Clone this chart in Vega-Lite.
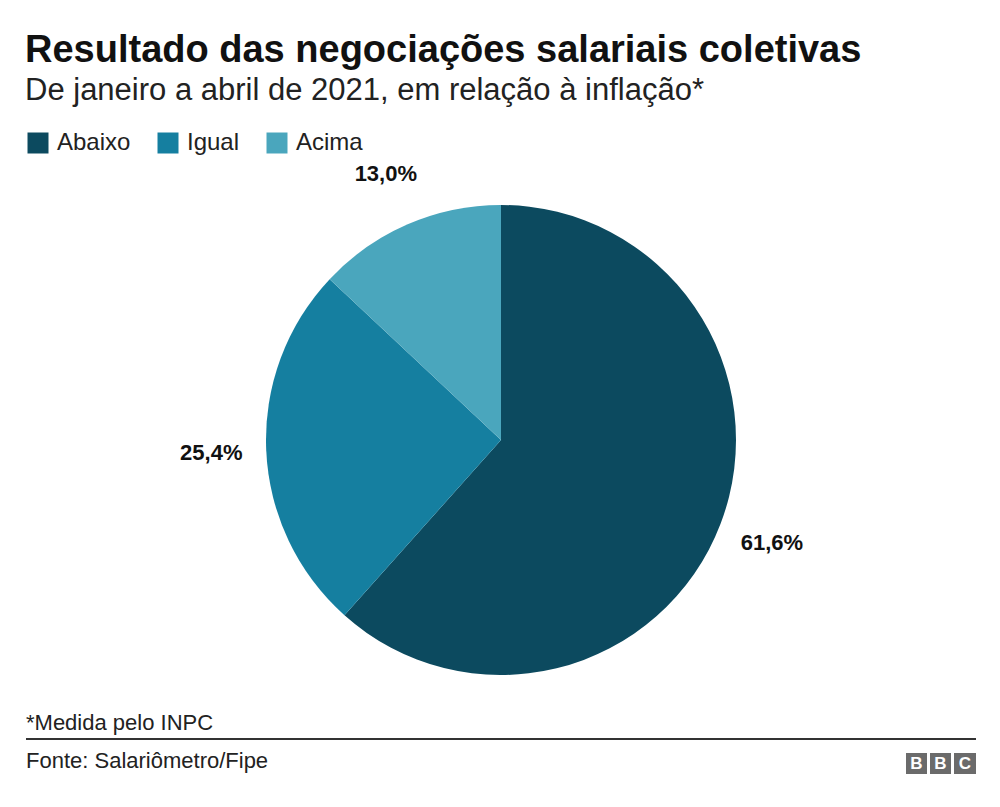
{
  "$schema": "https://vega.github.io/schema/vega-lite/v6.json",
  "background": "white",
  "padding": {"left": 25, "right": 25, "top": 32, "bottom": 0},
  "spacing": 0,
  "config": {
    "font": "Liberation Sans",
    "view": {"stroke": null},
    "locale": {"number": {"decimal": ",", "thousands": ".", "grouping": [3], "currency": ["R$", ""]}}
  },
  "title": {
    "text": "Resultado das negociações salariais coletivas",
    "subtitle": "De janeiro a abril de 2021, em relação à inflação*",
    "anchor": "start",
    "fontSize": 38,
    "fontWeight": "bold",
    "color": "#111111",
    "subtitleFontSize": 31,
    "subtitleColor": "#222222",
    "subtitlePadding": 6,
    "offset": 25
  },
  "vconcat": [
    {
      "width": 950,
      "height": 530,
      "data": {
        "values": [
          {"categoria": "Abaixo", "ordem": 1, "parcela": 0.616},
          {"categoria": "Igual", "ordem": 2, "parcela": 0.254},
          {"categoria": "Acima", "ordem": 3, "parcela": 0.130}
        ]
      },
      "encoding": {
        "theta": {"field": "parcela", "type": "quantitative", "stack": true},
        "order": {"field": "ordem", "type": "quantitative"}
      },
      "layer": [
        {
          "mark": {"type": "arc", "outerRadius": 235},
          "encoding": {
            "color": {
              "field": "categoria",
              "type": "nominal",
              "sort": ["Abaixo", "Igual", "Acima"],
              "scale": {"domain": ["Abaixo", "Igual", "Acima"], "range": ["#0c4a5f", "#157fa0", "#4aa6bd"]},
              "legend": {
                "orient": "top",
                "direction": "horizontal",
                "title": null,
                "symbolType": "square",
                "symbolSize": 441,
                "symbolOpacity": 1,
                "symbolStrokeWidth": 0,
                "labelFontSize": 24,
                "labelColor": "#222222",
                "labelOffset": 7,
                "columnPadding": 25,
                "offset": 7
              }
            }
          }
        },
        {
          "mark": {"type": "text", "radius": 290, "fontSize": 22, "fontWeight": "bold", "color": "#111111"},
          "encoding": {
            "detail": {"field": "categoria", "type": "nominal"},
            "text": {"field": "parcela", "type": "quantitative", "format": ".1%"}
          }
        }
      ]
    },
    {
      "width": 950,
      "height": 100,
      "data": {"values": [{}]},
      "layer": [
        {
          "mark": {"type": "text", "align": "left", "baseline": "alphabetic", "fontSize": 22, "color": "#222222"},
          "encoding": {"x": {"value": 0}, "y": {"value": 25}, "text": {"value": "*Medida pelo INPC"}}
        },
        {
          "mark": {"type": "rule", "strokeWidth": 2, "color": "#333333"},
          "encoding": {"x": {"value": 0}, "x2": {"value": 950}, "y": {"value": 34}}
        },
        {
          "mark": {"type": "text", "align": "left", "baseline": "alphabetic", "fontSize": 22, "color": "#222222"},
          "encoding": {"x": {"value": 0}, "y": {"value": 63}, "text": {"value": "Fonte: Salariômetro/Fipe"}}
        },
        {
          "mark": {"type": "rect", "color": "#6b6b6b"},
          "encoding": {"x": {"value": 880}, "x2": {"value": 901}, "y": {"value": 48}, "y2": {"value": 69}}
        },
        {
          "mark": {"type": "rect", "color": "#6b6b6b"},
          "encoding": {"x": {"value": 904}, "x2": {"value": 925}, "y": {"value": 48}, "y2": {"value": 69}}
        },
        {
          "mark": {"type": "rect", "color": "#6b6b6b"},
          "encoding": {"x": {"value": 928}, "x2": {"value": 950}, "y": {"value": 48}, "y2": {"value": 69}}
        },
        {
          "mark": {"type": "text", "align": "center", "baseline": "middle", "fontSize": 17, "fontWeight": "bold", "color": "white"},
          "encoding": {"x": {"value": 890.5}, "y": {"value": 59}, "text": {"value": "B"}}
        },
        {
          "mark": {"type": "text", "align": "center", "baseline": "middle", "fontSize": 17, "fontWeight": "bold", "color": "white"},
          "encoding": {"x": {"value": 914.5}, "y": {"value": 59}, "text": {"value": "B"}}
        },
        {
          "mark": {"type": "text", "align": "center", "baseline": "middle", "fontSize": 17, "fontWeight": "bold", "color": "white"},
          "encoding": {"x": {"value": 939}, "y": {"value": 59}, "text": {"value": "C"}}
        }
      ]
    }
  ]
}
